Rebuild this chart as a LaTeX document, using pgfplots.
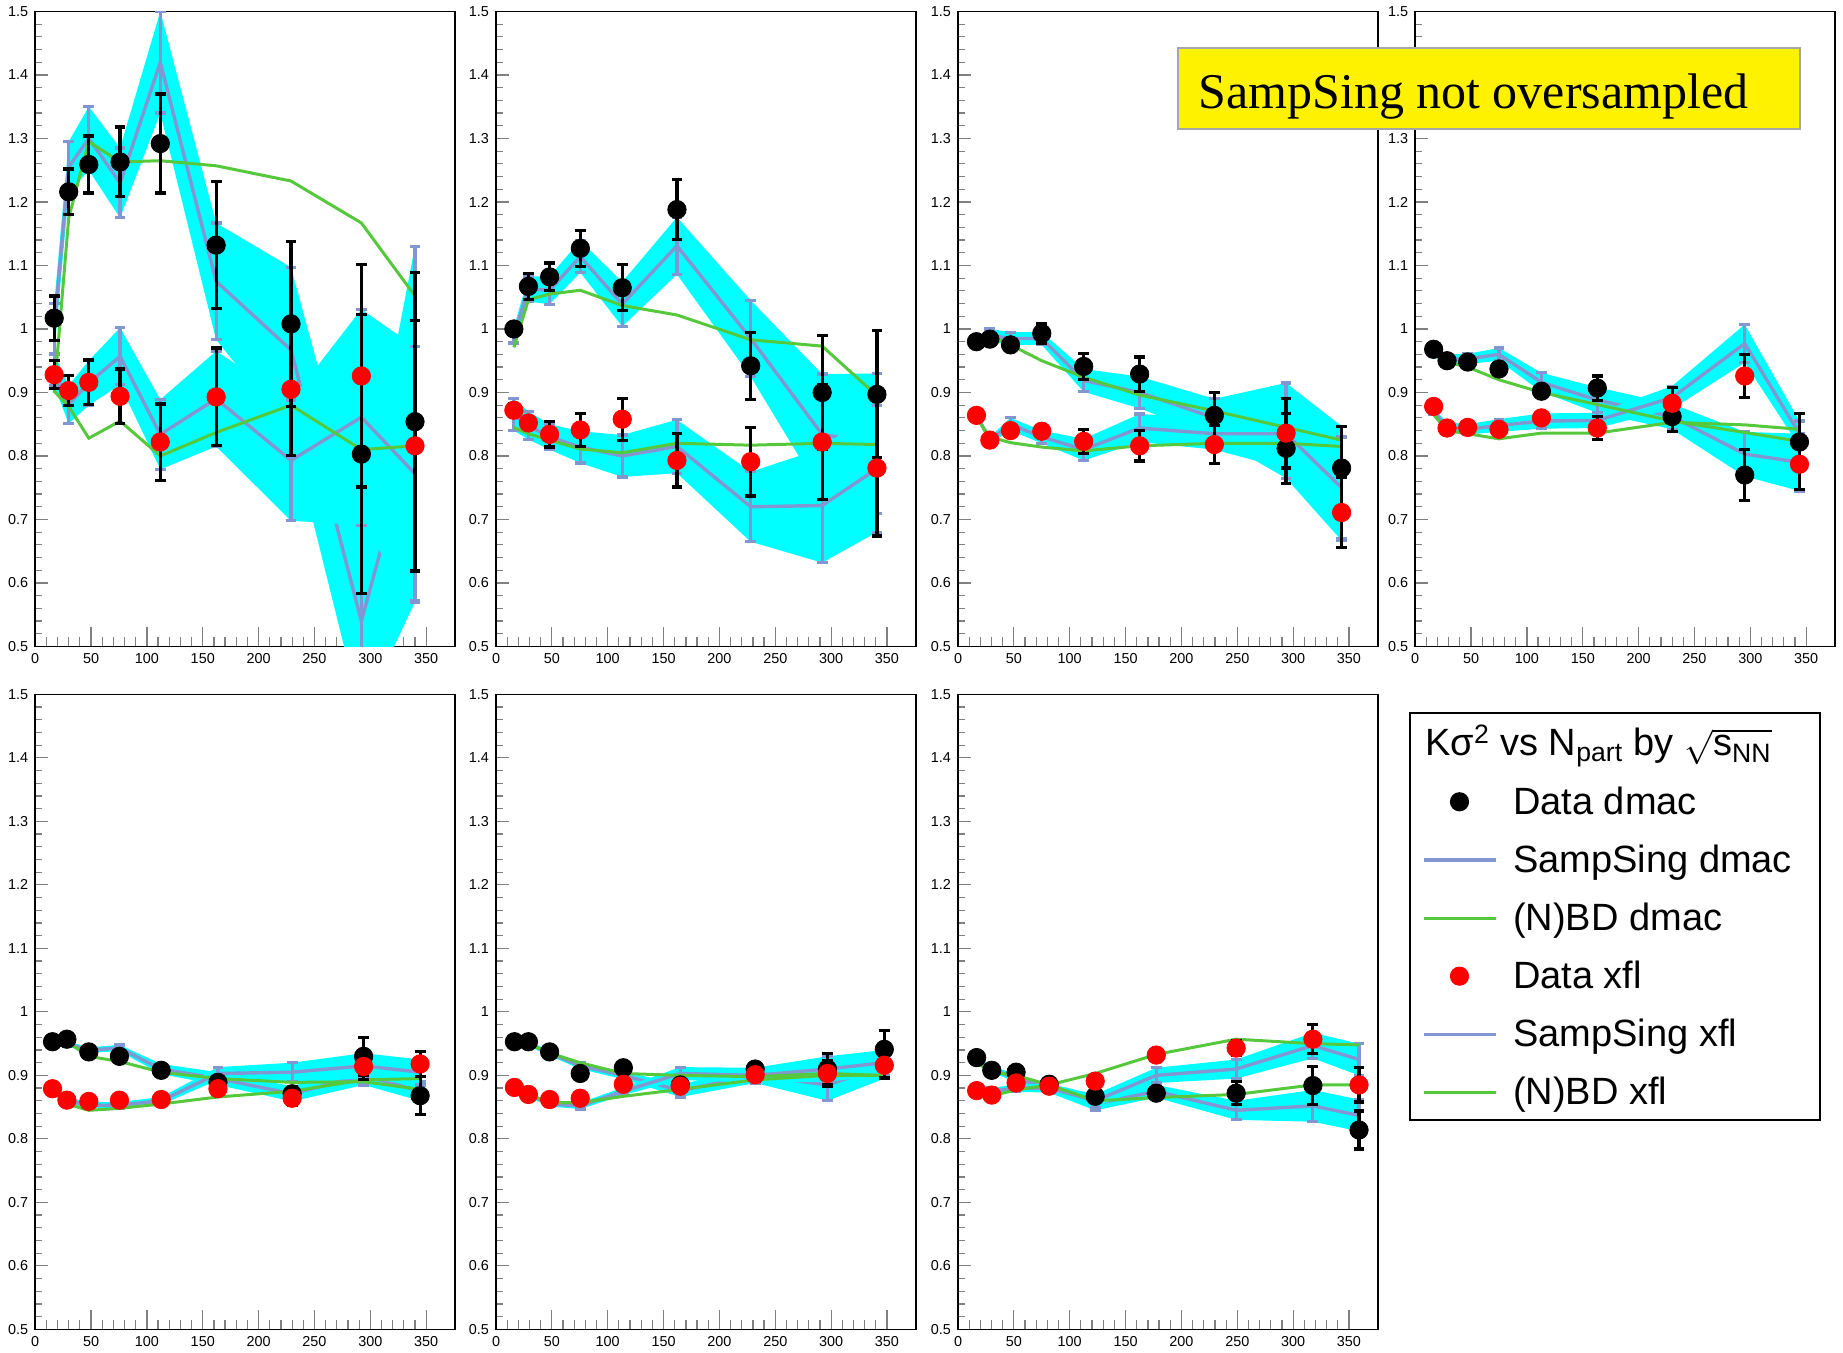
\documentclass[border=0pt]{standalone}
\usepackage{pgfplots}
\pgfplotsset{compat=1.18}
\usepackage{pgfplotstable}
\usepackage{fontspec}
\setmainfont{Liberation Sans}
\newfontfamily\timesfont{Liberation Serif}
\definecolor{lav}{RGB}{130,150,210}
\definecolor{grn}{RGB}{85,200,60}
\definecolor{cyn}{RGB}{0,255,255}

\pgfplotstableread{
x d de r re sd sde sr sre gd gr
17 1.017 0.035 0.928 0.022 1.000 0.040 0.936 0.025 0.900 0.902
30 1.216 0.036 0.903 0.024 1.255 0.040 0.881 0.030 1.175 0.878
48 1.259 0.045 0.916 0.035 1.300 0.050 0.915 0.035 1.295 0.828
76 1.263 0.055 0.894 0.043 1.230 0.055 0.957 0.045 1.263 0.855
112 1.292 0.078 0.822 0.060 1.420 0.080 0.834 0.055 1.265 0.800
162 1.132 0.100 0.893 0.077 1.075 0.092 0.890 0.075 1.257 0.837
229 1.008 0.130 0.905 0.104 0.967 0.130 0.793 0.095 1.233 0.880
292 0.803 0.220 0.926 0.175 0.540 0.150 0.861 0.170 1.167 0.810
340 0.854 0.235 0.816 0.197 0.850 0.280 0.772 0.200 1.052 0.816
}\tabA
\pgfplotstableread{
x d de r re sd sde sr sre gd gr
16 1.000 0.010 0.872 0.010 0.990 0.012 0.865 0.025 0.971 0.845
29 1.067 0.020 0.852 0.010 1.063 0.020 0.848 0.022 1.046 0.835
48 1.082 0.022 0.834 0.020 1.061 0.022 0.830 0.020 1.055 0.825
75.5 1.127 0.028 0.841 0.026 1.114 0.025 0.814 0.025 1.061 0.811
113 1.065 0.036 0.858 0.033 1.039 0.035 0.800 0.033 1.037 0.805
162 1.188 0.047 0.793 0.042 1.131 0.045 0.815 0.042 1.022 0.820
228 0.942 0.053 0.791 0.054 0.985 0.060 0.720 0.055 0.983 0.817
292 0.900 0.090 0.822 0.090 0.834 0.095 0.722 0.090 0.973 0.820
341 0.897 0.100 0.781 0.107 0.820 0.110 0.780 0.100 0.895 0.818
}\tabB
\pgfplotstableread{
x d de r re sd sde sr sre gd gr
16.5 0.980 0.005 0.864 0.005 0.980 0.005 0.865 0.005 0.985 0.860
28.5 0.984 0.005 0.825 0.005 0.990 0.010 0.825 0.005 0.990 0.830
47 0.975 0.005 0.840 0.005 0.985 0.010 0.850 0.010 0.975 0.821
75 0.993 0.015 0.839 0.005 0.985 0.010 0.830 0.010 0.950 0.814
112.5 0.941 0.021 0.823 0.019 0.919 0.018 0.810 0.017 0.924 0.808
162.6 0.929 0.027 0.816 0.024 0.900 0.025 0.844 0.022 0.896 0.816
229.5 0.864 0.036 0.818 0.030 0.860 0.030 0.835 0.025 0.871 0.820
293.7 0.812 0.055 0.836 0.055 0.840 0.075 0.835 0.055 0.845 0.820
343.4 0.781 0.065 0.711 0.055 0.757 0.090 0.750 0.080 0.825 0.815
}\tabC
\pgfplotstableread{
x d de r re sd sde sr sre gd gr
16.5 0.968 0.005 0.878 0.005 0.962 0.005 0.870 0.005 0.965 0.865
28.5 0.950 0.005 0.844 0.005 0.952 0.008 0.845 0.008 0.948 0.840
47 0.948 0.005 0.845 0.005 0.953 0.008 0.842 0.008 0.940 0.835
75 0.937 0.005 0.842 0.005 0.960 0.010 0.848 0.010 0.920 0.827
113 0.902 0.008 0.860 0.008 0.916 0.015 0.855 0.012 0.900 0.836
163 0.907 0.019 0.844 0.018 0.888 0.020 0.856 0.012 0.881 0.836
230 0.862 0.023 0.883 0.025 0.862 0.020 0.892 0.018 0.855 0.853
295 0.770 0.040 0.926 0.034 0.803 0.035 0.977 0.030 0.837 0.849
344 0.822 0.045 0.787 0.040 0.790 0.045 0.835 0.020 0.823 0.842
}\tabD
\pgfplotstableread{
x d de r re sd sde sr sre gd gr
15.5 0.953 0.004 0.879 0.004 0.953 0.004 0.875 0.004 0.950 0.875
28.4 0.957 0.004 0.861 0.004 0.950 0.004 0.860 0.004 0.953 0.855
48 0.937 0.004 0.859 0.004 0.940 0.004 0.853 0.005 0.930 0.845
75.4 0.930 0.005 0.861 0.005 0.943 0.005 0.853 0.005 0.922 0.848
112.8 0.908 0.006 0.862 0.006 0.910 0.008 0.860 0.006 0.905 0.855
163.6 0.889 0.008 0.879 0.008 0.895 0.010 0.903 0.010 0.895 0.866
230 0.871 0.012 0.864 0.012 0.871 0.012 0.905 0.015 0.889 0.875
294 0.930 0.030 0.914 0.020 0.900 0.015 0.915 0.020 0.890 0.893
344.6 0.868 0.030 0.918 0.020 0.875 0.015 0.905 0.020 0.878 0.895
}\tabE
\pgfplotstableread{
x d de r re sd sde sr sre gd gr
16.5 0.953 0.004 0.881 0.004 0.953 0.004 0.880 0.004 0.953 0.880
29 0.953 0.004 0.870 0.004 0.950 0.004 0.870 0.004 0.950 0.870
48 0.937 0.004 0.862 0.004 0.935 0.004 0.855 0.004 0.935 0.857
75.4 0.903 0.005 0.864 0.005 0.915 0.005 0.852 0.005 0.920 0.857
114 0.912 0.006 0.886 0.006 0.900 0.006 0.875 0.006 0.903 0.867
165 0.885 0.008 0.883 0.008 0.876 0.010 0.903 0.010 0.900 0.878
232 0.910 0.010 0.901 0.010 0.900 0.012 0.900 0.012 0.898 0.893
296.7 0.910 0.025 0.903 0.020 0.885 0.025 0.910 0.020 0.903 0.900
347.6 0.941 0.030 0.916 0.020 0.915 0.020 0.920 0.020 0.900 0.900
}\tabF
\pgfplotstableread{
x d de r re sd sde sr sre gd gr
16.7 0.928 0.004 0.876 0.004 0.925 0.004 0.875 0.004 0.920 0.875
30.2 0.908 0.004 0.869 0.004 0.910 0.005 0.875 0.005 0.905 0.868
52 0.905 0.005 0.888 0.005 0.895 0.006 0.880 0.006 0.900 0.877
81.6 0.886 0.005 0.883 0.005 0.880 0.007 0.880 0.007 0.885 0.885
122.8 0.867 0.006 0.891 0.006 0.855 0.010 0.860 0.010 0.860 0.903
177.5 0.872 0.008 0.932 0.008 0.875 0.010 0.900 0.012 0.865 0.933
249 0.872 0.018 0.943 0.012 0.845 0.015 0.910 0.015 0.870 0.957
317.7 0.884 0.030 0.957 0.023 0.852 0.025 0.947 0.020 0.885 0.950
359 0.814 0.030 0.885 0.027 0.837 0.025 0.925 0.025 0.885 0.948
}\tabG

\pgfplotsset{
  panel/.style={scale only axis, width=210pt, height=317.5pt,
    anchor=south west, xmin=0, xmax=376, ymin=0.5, ymax=1.5,
    axis line style={line width=0.75pt},
    tick align=inside, tick pos=left,
    xtick={0,50,100,150,200,250,300,350},
    ytick={0.5,0.6,0.7,0.8,0.9,1,1.1,1.2,1.3,1.4,1.5},
    minor x tick num=4, minor y tick num=4,
    major tick length=6.5pt, minor tick length=3.3pt,
    xtick style={/pgfplots/major tick length=9.5pt, /pgfplots/minor tick length=4.7pt},
    tick style={line width=0.6pt},
    tick label style={font=\fontsize{7.2}{8}\selectfont},
    /pgf/number format/assume math mode=true},
  err/.style={error bars/.cd, y dir=both, y explicit,
    error bar style={#1, line width=1.6pt},
    error mark options={rotate=90, #1, mark size=2.7pt, line width=1.6pt}}
}

\newcommand{\drawpanel}[1]{%
  \addplot[draw=none, stack plots=y] table[x=x, y expr=\thisrow{sd}-\thisrow{sde}] {#1};
  \addplot[draw=none, fill=cyn, stack plots=y] table[x=x, y expr=2*\thisrow{sde}] {#1} \closedcycle;
  \addplot[lav, line width=1.7pt, err=lav] table[x=x, y=sd, y error=sde] {#1};
  \addplot[draw=none, stack plots=y] table[x=x, y expr=\thisrow{sr}-\thisrow{sre}-\thisrow{sd}-\thisrow{sde}] {#1};
  \addplot[draw=none, fill=cyn, stack plots=y] table[x=x, y expr=2*\thisrow{sre}] {#1} \closedcycle;
  \addplot[lav, line width=1.7pt, err=lav] table[x=x, y=sr, y error=sre] {#1};
  \addplot[grn, line width=1.5pt] table[x=x, y=gd] {#1};
  \addplot[grn, line width=1.5pt] table[x=x, y=gr] {#1};
  \addplot[only marks, mark=*, black, mark size=4.6pt, err=black] table[x=x, y=d, y error=de] {#1};
  \addplot[only marks, mark=*, red, mark options={fill=red, draw=red}, mark size=4.6pt, err=black] table[x=x, y=r, y error=re] {#1};
}

\begin{document}
\begin{tikzpicture}
\path[use as bounding box] (0,0) rectangle (921.5pt,676.5pt);
\begin{axis}[panel, at={(17.6pt,353.25pt)}]
\drawpanel{\tabA}
\end{axis}
\begin{axis}[panel, at={(248pt,353.25pt)}]
\drawpanel{\tabB}
\end{axis}
\begin{axis}[panel, at={(479pt,353.25pt)}]
\drawpanel{\tabC}
\end{axis}
\begin{axis}[panel, at={(707.6pt,353.25pt)},
  yticklabels={0.5,0.6,0.7,0.8,0.9,1,1.1,1.2,1.3,,1.5}]
\drawpanel{\tabD}
\end{axis}
\begin{axis}[panel, at={(17.6pt,11.8pt)}]
\drawpanel{\tabE}
\end{axis}
\begin{axis}[panel, at={(248pt,11.8pt)}]
\drawpanel{\tabF}
\end{axis}
\begin{axis}[panel, at={(479pt,11.8pt)}]
\drawpanel{\tabG}
\end{axis}
\begin{axis}[at={(704.5pt,115pt)}, anchor=south west, scale only axis,
  width=207.5pt, height=205.5pt, hide axis, xmin=0, xmax=1, ymin=0, ymax=1,
  legend cell align=left,
  legend style={at={(0,1)}, anchor=north west, draw=black, line width=0.8pt,
    fill=white, font=\fontsize{19}{22}\selectfont, inner xsep=6pt, inner ysep=4pt,
    row sep=9.8pt, /tikz/every odd column/.style={column sep=6pt}},
  legend image code/.code={\draw[#1] (0pt,0pt) -- (36pt,0pt);}]
\addplot[draw=none, forget plot] coordinates {(0,0) (1,1)};
\addlegendimage{empty legend}
\addlegendentry{\hspace*{-44pt}Kσ\textsuperscript{2} vs N\textsubscript{part} by $\sqrt{\mbox{s\textsubscript{NN}}}$}
\addlegendimage{legend image code/.code={\path[draw=none, fill=none] (0pt,0pt) -- (36pt,0pt); \draw[black, mark=*, mark size=4.4pt, only marks] plot coordinates {(18pt,0pt)};}}
\addlegendentry{Data dmac}
\addlegendimage{lav, line width=1.7pt}
\addlegendentry{SampSing dmac\hspace*{6pt}}
\addlegendimage{grn, line width=1.5pt}
\addlegendentry{(N)BD dmac}
\addlegendimage{legend image code/.code={\path[draw=none, fill=none] (0pt,0pt) -- (36pt,0pt); \draw[red, mark=*, mark size=4.4pt, only marks] plot coordinates {(18pt,0pt)};}}
\addlegendentry{Data xfl}
\addlegendimage{lav, line width=1.7pt}
\addlegendentry{SampSing xfl}
\addlegendimage{grn, line width=1.5pt}
\addlegendentry{(N)BD xfl}
\end{axis}
\draw[fill=yellow, draw=gray!70, line width=1pt] (589pt,612pt) rectangle (900pt,652.5pt);
\node[anchor=base west, inner sep=0pt, font=\timesfont\fontsize{25}{25}\selectfont] at (599pt,622pt) {SampSing not oversampled};
\end{tikzpicture}
\end{document}
